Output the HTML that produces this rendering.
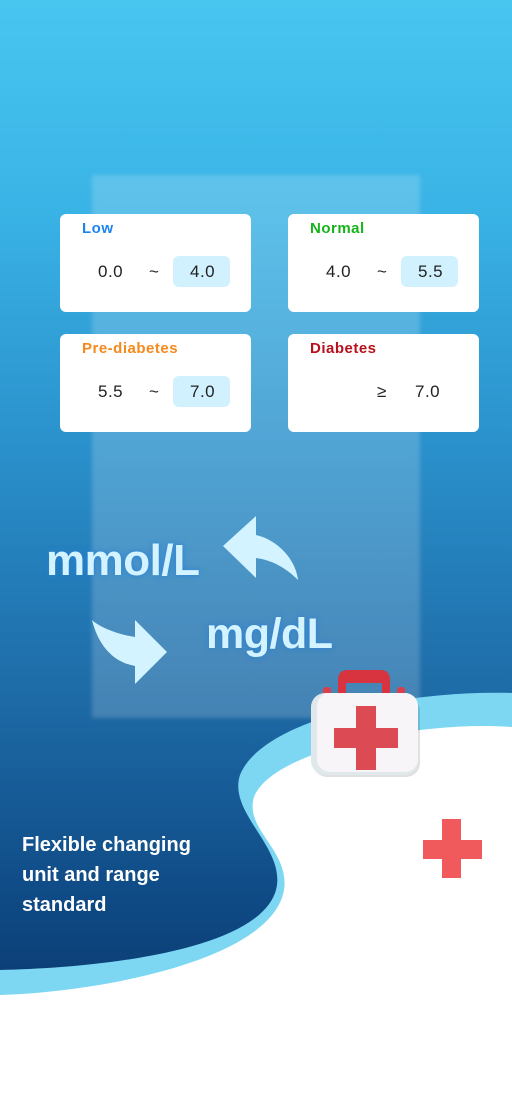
<!DOCTYPE html>
<html><head><meta charset="utf-8"><style>
*{margin:0;padding:0;box-sizing:border-box}
body{width:512px;height:1109px;overflow:hidden;position:relative;font-family:"Liberation Sans",sans-serif;background:#fff}
.bg{position:absolute;left:0;top:0;width:512px;height:1000px;background:linear-gradient(180deg,#48c6f0 0px,#3ab4e6 200px,#2a90cb 450px,#1d6aa6 700px,#0f4a85 900px,#0b3c72 1000px)}
.ghost{position:absolute;left:92px;top:175px;width:328px;height:543px;background:rgba(255,255,255,0.18);filter:blur(2px)}
.card{position:absolute;width:191px;height:98px;background:#fff;border-radius:6px}
.lab{position:absolute;left:22px;top:6px;font-weight:bold;font-size:15px;letter-spacing:.5px}
.num{position:absolute;top:48px;font-size:17px;color:#222;letter-spacing:.5px}
.hl{position:absolute;left:113px;top:42px;width:57px;height:31px;background:#d0f1fd;border-radius:6px}
.big{position:absolute;color:#d2f3ff;font-weight:bold;text-shadow:0 0 6px #2a7fd6;letter-spacing:-0.5px}
.txt{position:absolute;left:22px;top:830px;color:#fff;font-size:20px;font-weight:bold;line-height:30px}
</style></head><body>
<div class="bg"></div>
<div class="ghost"></div>
<div class="card" style="left:60px;top:214px"><div class="lab" style="color:#1a84f0">Low</div><div class="hl"></div><div class="num" style="left:38px">0.0</div><div class="num" style="left:89px">~</div><div class="num" style="left:130px">4.0</div></div>
<div class="card" style="left:288px;top:214px"><div class="lab" style="color:#16b31a">Normal</div><div class="hl"></div><div class="num" style="left:38px">4.0</div><div class="num" style="left:89px">~</div><div class="num" style="left:130px">5.5</div></div>
<div class="card" style="left:60px;top:334px"><div class="lab" style="color:#f5891b">Pre-diabetes</div><div class="hl"></div><div class="num" style="left:38px">5.5</div><div class="num" style="left:89px">~</div><div class="num" style="left:130px">7.0</div></div>
<div class="card" style="left:288px;top:334px"><div class="lab" style="color:#b8101c">Diabetes</div><div class="num" style="left:89px">≥</div><div class="num" style="left:127px">7.0</div></div>
<div class="big" style="left:46px;top:536px;font-size:44px">mmol/L</div>
<div class="big" style="left:206px;top:610px;font-size:43px">mg/dL</div>
<svg width="512" height="1109" style="position:absolute;left:0;top:0">
<path d="M223,546 L256,516 L256,535 C278,540 296,560 298,580 C286,568 272,560 256,558 L256,578 Z" fill="#d2f3ff"/>
<path d="M167,652 L135,620 L135,637 C115,634 98,626 92,620 C98,644 112,662 135,666 L135,684 Z" fill="#d2f3ff"/>
<path d="M512,693 C400,690 262,720 240,775 C228,812 282,845 277,885 C268,950 100,968 0,970 L0,1109 L512,1109 Z" fill="#7dd7f3"/>
<path d="M512,727 C420,720 272,750 254,797 C244,830 290,850 284,890 C272,960 100,992 0,995 L0,1109 L512,1109 Z" fill="#fff"/>
<rect x="323" y="687" width="8" height="16" rx="3" fill="#dc3f4a"/>
<rect x="397" y="687" width="8" height="16" rx="3" fill="#dc3f4a"/>
<path d="M338,700 V680 Q338,670 348,670 H380 Q390,670 390,680 V700 H382 V683 H346 V700 Z" fill="#d8343f"/>
<rect x="313" y="697" width="107" height="80" rx="14" fill="#000" opacity=".12"/>
<rect x="311" y="693" width="107" height="82" rx="14" fill="#e0e8ec"/>
<rect x="317" y="693" width="101" height="79" rx="13" fill="#f7f5f8"/>
<path d="M356,706 h20 v22 h22 v20 h-22 v22 h-20 v-22 h-22 v-20 h22 z" fill="#dc4a54"/>
<path d="M442,819 h19 v21 h21 v19 h-21 v19 h-19 v-19 h-19 v-19 h19 z" fill="#f05a5c"/>
</svg>
<div class="txt">Flexible changing<br>unit and range<br>standard</div>
</body></html>
